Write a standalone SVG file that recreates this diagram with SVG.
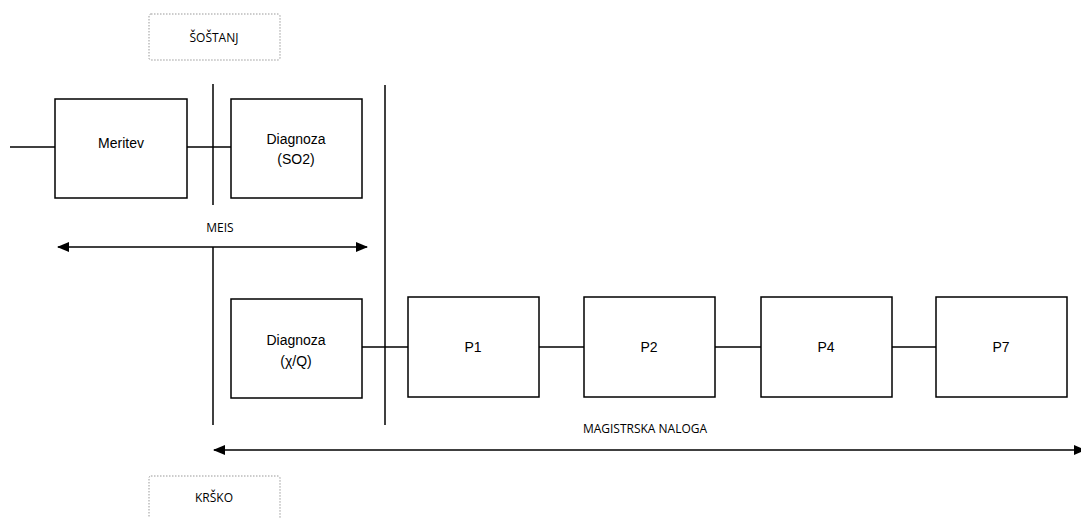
<svg xmlns="http://www.w3.org/2000/svg" width="1081" height="518" viewBox="0 0 1081 518">
<style>
.box{fill:#fff;stroke:#000;stroke-width:1.5}
.lbl{font-family:"Liberation Sans",Arial,sans-serif;font-size:14px;fill:#000;text-anchor:middle}
.cal{font-family:"Open Sans","Liberation Sans",sans-serif;font-size:12px;fill:#000;text-anchor:middle}
.ln{stroke:#000;stroke-width:1.5;fill:none}
.dot{fill:#fff;stroke:#999;stroke-width:1;stroke-dasharray:1.5 1.5}
</style>
<defs>
<marker id="ah" viewBox="0 0 12 10" refX="11" refY="5" markerWidth="12" markerHeight="10" markerUnits="userSpaceOnUse" orient="auto-start-reverse">
<path d="M0,0 L12,5 L0,10 z" fill="#000"/>
</marker>
</defs>
<rect width="1081" height="518" fill="#fff"/>
<g id="connectors">
<line class="ln" x1="10" y1="147" x2="55" y2="147"/>
<line class="ln" x1="187" y1="147" x2="231" y2="147"/>
<line class="ln" x1="362" y1="347" x2="408" y2="347"/>
<line class="ln" x1="539" y1="347" x2="584" y2="347"/>
<line class="ln" x1="715" y1="347" x2="761" y2="347"/>
<line class="ln" x1="892" y1="347" x2="936" y2="347"/>
<line class="ln" x1="213" y1="84" x2="213" y2="205"/>
<line class="ln" x1="213" y1="247" x2="213" y2="425"/>
<line class="ln" x1="385" y1="85" x2="385" y2="425"/>
<line class="ln" x1="58" y1="247" x2="367" y2="247" marker-start="url(#ah)" marker-end="url(#ah)"/>
<line class="ln" x1="214" y1="450" x2="1085" y2="450" marker-start="url(#ah)" marker-end="url(#ah)"/>
</g>
<g id="sostanj"><rect class="dot" x="149" y="14" width="131" height="46" rx="2"/><text class="cal" x="214" y="42">ŠOŠTANJ</text></g>
<g id="krsko"><rect class="dot" x="149" y="476" width="131" height="60" rx="2"/><text class="cal" x="214" y="502">KRŠKO</text></g>
<g id="meis"><text class="cal" x="220" y="232">MEIS</text></g>
<g id="magistrska"><text class="cal" x="645" y="433">MAGISTRSKA NALOGA</text></g>
<g id="meritev"><rect class="box" x="55" y="99" width="132" height="99"/><text class="lbl" x="121" y="148">Meritev</text></g>
<g id="diag-so2"><rect class="box" x="231" y="99" width="131" height="99"/><text class="lbl" x="296" y="144">Diagnoza</text><text class="lbl" x="296" y="164">(SO2)</text></g>
<g id="diag-xq"><rect class="box" x="231" y="299" width="131" height="99"/><text class="lbl" x="296" y="345">Diagnoza</text><text class="lbl" x="296" y="366">(χ/Q)</text></g>
<g id="p1"><rect class="box" x="408" y="297" width="131" height="100"/><text class="lbl" x="473" y="352">P1</text></g>
<g id="p2"><rect class="box" x="584" y="297" width="131" height="100"/><text class="lbl" x="649" y="352">P2</text></g>
<g id="p4"><rect class="box" x="761" y="297" width="131" height="100"/><text class="lbl" x="826" y="352">P4</text></g>
<g id="p7"><rect class="box" x="936" y="297" width="131" height="100"/><text class="lbl" x="1001" y="352">P7</text></g>
</svg>
